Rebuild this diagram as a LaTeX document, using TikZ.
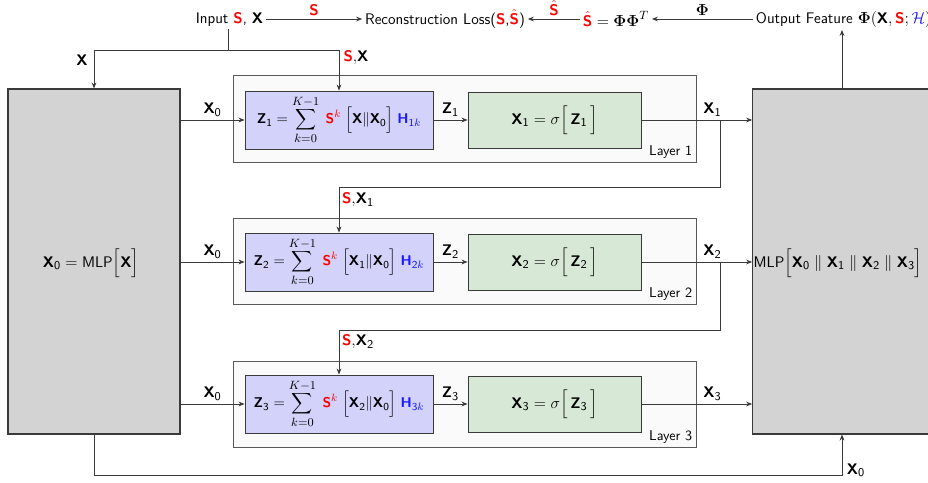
\documentclass[tikz,border=0pt]{standalone}
\usepackage{amsmath}
\usetikzlibrary{arrows.meta,calc}
\renewcommand{\familydefault}{\sfdefault}
\DeclareMathSizes{11.5}{11.5}{8.6}{6.5}
\DeclareMathSizes{10.6}{10.6}{8.4}{6.3}
\definecolor{lnc}{HTML}{3A3A3A}
\definecolor{grayblk}{HTML}{D3D3D3}
\definecolor{bluebox}{HTML}{D2D2FA}
\definecolor{greenbox}{HTML}{D7E8D6}
\definecolor{outerbox}{HTML}{FAFAFA}
\definecolor{myblue}{HTML}{1A1AFF}
\newcommand{\bS}{\text{\textbf{S}}}
\newcommand{\bX}{\text{\textbf{X}}}
\newcommand{\bZ}{\text{\textbf{Z}}}
\newcommand{\bH}{\text{\textbf{H}}}
\newcommand{\rS}{\textcolor{red}{\bS}}
\newcommand{\limtxt}[1]{\mbox{\fontsize{8.6}{9}\selectfont$#1$}}
\newcommand{\bigsum}{\displaystyle\sum_{\limtxt{k{=}0}}^{\limtxt{K{-}1}}}
\begin{document}
\begin{tikzpicture}[x=0.75pt,y=-0.75pt,
  every node/.style={font=\fontsize{11.5}{13.5}\selectfont},
  arr/.style={draw=lnc,line width=0.7pt,-{Stealth[length=4.5pt,width=3.6pt]}},
  ln/.style={draw=lnc,line width=0.7pt},
  txt/.style={inner sep=2pt},
  lbl/.style={inner sep=1pt},
  gblk/.style={draw=lnc,line width=0.8pt,fill=grayblk},
  outerb/.style={draw=black!65,line width=0.7pt,fill=outerbox,minimum width=347.25pt,minimum height=64.5pt},
  bbox/.style={draw=lnc,line width=0.7pt,fill=bluebox,minimum width=141pt,minimum height=43.5pt,inner sep=0pt,font=\fontsize{10.6}{12.5}\selectfont},
  gbox/.style={draw=lnc,line width=0.7pt,fill=greenbox,minimum width=129.75pt,minimum height=42pt,inner sep=0pt},
  laylbl/.style={anchor=south east,font=\fontsize{10.6}{12.5}\selectfont,inner sep=3pt}
]
\path[use as bounding box] (0,0) rectangle (928,482);
\clip (0,0) rectangle (928,482);

% top row
\node[txt] (inp) at (229.5,19) {Input \textcolor{red}{\textbf{S}}, \textbf{X}};
\node[txt] (loss) at (445,19) {Reconstruction Loss(\textcolor{red}{\textbf{S}},\textcolor{red}{$\hat{\bS}$})};
\node[txt] (shat) at (616,19) {$\textcolor{red}{\hat{\bS}}=\mathbf{\Phi\Phi}^T$};
\node[txt,anchor=west] (outf) at (753,19) {Output Feature $\mathbf{\Phi}(\bX,\rS;\textcolor{myblue}{\mathcal{H}})$};

\draw[arr] (inp) -- node[above=1pt,lbl,text=red] {\textbf{S}} (loss);
\draw[arr] (shat) -- node[above=1pt,lbl,text=red] {$\hat{\bS}$} (loss);
\draw[arr] (outf) -- node[above=1pt,lbl] {$\mathbf{\Phi}$} (shat);

% side blocks
\node[gblk,minimum width=129pt,minimum height=258.75pt] (lb) at (94,261.5) {};
\node at (91,263) {$\bX_{\mathsf{0}}=\text{MLP}\Big[\bX\Big]$};
\node[gblk,minimum width=140pt,minimum height=258.75pt] (rb) at (846,261.5) {};
\node at (838,263) {MLP$\Big[\bX_{\mathsf{0}}\;\|\;\bX_{\mathsf{1}}\;\|\;\bX_{\mathsf{2}}\;\|\;\bX_{\mathsf{3}}\Big]$};

% layers
\node[outerb,minimum height=65.25pt] (o1) at (464.5,118.5) {};
\node[outerb] (o2) at (464.5,261) {};
\node[outerb] (o3) at (464.5,404) {};
\node[laylbl] at (o1.south east) {Layer 1};
\node[laylbl] at (o2.south east) {Layer 2};
\node[laylbl] at (o3.south east) {Layer 3};

\node[bbox] (b1) at (339,120) {$\bZ_{\mathsf{1}}=\bigsum\;\textcolor{red}{\bS^{k}}\;\Big[\bX\|\bX_{\mathsf{0}}\Big]\;\textcolor{myblue}{\bH_{\mathsf{1}k}}$};
\node[bbox] (b2) at (339,262) {$\bZ_{\mathsf{2}}=\bigsum\;\textcolor{red}{\bS^{k}}\;\Big[\bX_{\mathsf{1}}\|\bX_{\mathsf{0}}\Big]\;\textcolor{myblue}{\bH_{\mathsf{2}k}}$};
\node[bbox] (b3) at (339,404) {$\bZ_{\mathsf{3}}=\bigsum\;\textcolor{red}{\bS^{k}}\;\Big[\bX_{\mathsf{2}}\|\bX_{\mathsf{0}}\Big]\;\textcolor{myblue}{\bH_{\mathsf{3}k}}$};

\node[gbox] (g1) at (554.5,120) {$\bX_{\mathsf{1}}=\sigma\Big[\,\bZ_{\mathsf{1}}\,\Big]$};
\node[gbox] (g2) at (554.5,262) {$\bX_{\mathsf{2}}=\sigma\Big[\,\bZ_{\mathsf{2}}\,\Big]$};
\node[gbox] (g3) at (554.5,404) {$\bX_{\mathsf{3}}=\sigma\Big[\,\bZ_{\mathsf{3}}\,\Big]$};

% input split
\coordinate (j0) at (228,50);
\draw[ln] (inp.south -| j0) -- (j0);
\draw[arr] (j0) -| (lb.north);
\draw[arr] (j0) -| (b1.north);
\node at (82,60) {$\bX$};
\node at (356,58) {$\rS{,}\bX$};

% X0 feeds and chains
\foreach \i in {1,2,3}{
  \draw[arr] (lb.east |- b\i) -- node[above=1.5pt,lbl] {$\bX_{\mathsf{0}}$} (b\i.west);
  \draw[arr] (b\i) -- node[above=1.5pt,lbl] {$\bZ_{\mathsf{\i}}$} (g\i);
  \draw[arr] (g\i) -- node[pos=0.64,above=1.5pt,lbl] {$\bX_{\mathsf{\i}}$} (rb.west |- g\i);
}

% feedback to next layers
\coordinate (br1) at (720,120);
\coordinate (t1) at (720,187);
\draw[arr] (br1) -- (t1) -| (b2.north);
\node at (358,200) {$\rS{,}\bX_{\mathsf{1}}$};
\coordinate (br2) at (720,262);
\coordinate (t2) at (720,330);
\draw[arr] (br2) -- (t2) -| (b3.north);
\node at (358,342) {$\rS{,}\bX_{\mathsf{2}}$};

% bottom skip and output
\coordinate (bt) at (842,475);
\draw[arr] (lb.south) |- (bt) -- (bt |- rb.south);
\node at (856,470) {$\bX_{\mathsf{0}}$};
\draw[arr] (bt |- rb.north) -- (bt |- outf.south);
\end{tikzpicture}
\end{document}
